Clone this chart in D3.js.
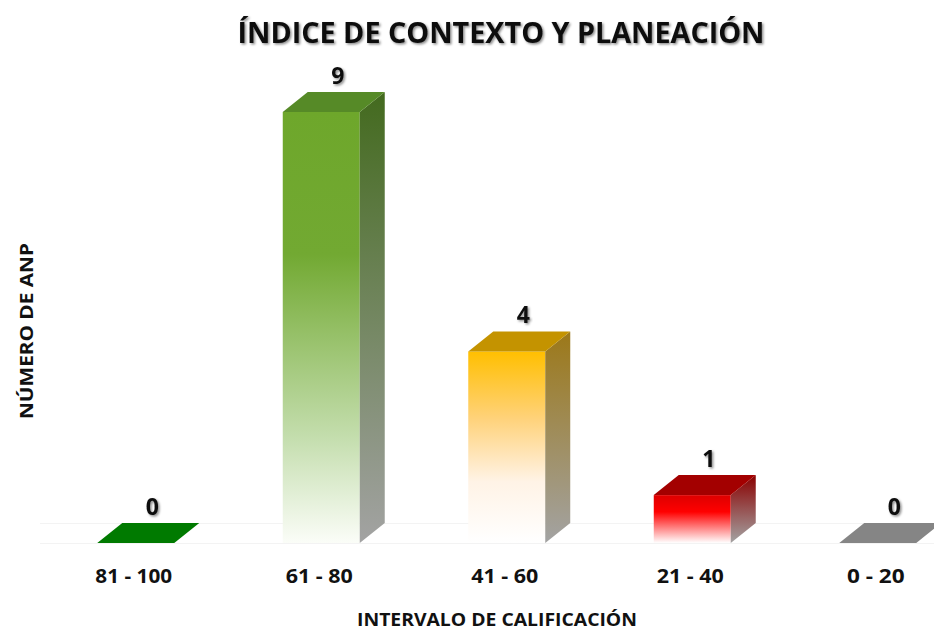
<!DOCTYPE html>
<html>
<head>
<meta charset="utf-8">
<script src="https://cdn.jsdelivr.net/npm/d3@7"></script>
<style>
  body { margin: 0; background: #fff; }
  text { font-family: "Open Sans", "DejaVu Sans", sans-serif; font-weight: bold; fill: #111; }
</style>
</head>
<body>
<div id="chart"></div>
<script>
// data
var categories = ["81 - 100", "61 - 80", "41 - 60", "21 - 40", "0 - 20"];
var values = [0, 9, 4, 1, 0];
var titleText = "ÍNDICE DE CONTEXTO Y PLANEACIÓN";
var xTitle = "INTERVALO DE CALIFICACIÓN";
var yTitle = "NÚMERO DE ANP";

// colours per bar: front gradient, top face, side gradient
var frontStops = [
  [["0%", "#008000"], ["100%", "#008000"]],
  [["0%", "#6ea72b"], ["33%", "#72a932"], ["75%", "#c3ddac"], ["100%", "#fbfdf8"]],
  [["0%", "#ffbf00"], ["35%", "#ffd27a"], ["68%", "#fff3e6"], ["100%", "#ffffff"]],
  [["0%", "#dd0000"], ["35%", "#ff0000"], ["100%", "#ffffff"]],
  [["0%", "#808080"], ["100%", "#808080"]]
];
var topColors = ["#007a00", "#568a27", "#c49300", "#a30000", "#858585"];
var sideTop = ["#005a00", "#436a1e", "#9c7818", "#8a0000", "#606060"];
var sideBottom = "#a3a3a3";

var width = 934, height = 631;
var depthX = 25, depthY = 20; // 3d offset

var svg = d3.select("#chart").append("svg")
    .attr("width", width)
    .attr("height", height);

var defs = svg.append("defs");

// soft text shadow like the original
var shadow = defs.append("filter").attr("id", "shadow")
    .attr("x", "-20%").attr("y", "-20%").attr("width", "140%").attr("height", "160%");
shadow.append("feDropShadow")
    .attr("dx", 1.5).attr("dy", 1.5)
    .attr("stdDeviation", 1.3)
    .attr("flood-color", "#000")
    .attr("flood-opacity", 0.45);

frontStops.forEach(function(stops, i) {
  var g = defs.append("linearGradient").attr("id", "front" + i)
      .attr("x1", 0).attr("y1", 0).attr("x2", 0).attr("y2", 1);
  stops.forEach(function(s) {
    g.append("stop").attr("offset", s[0]).attr("stop-color", s[1]);
  });
  var sg = defs.append("linearGradient").attr("id", "side" + i)
      .attr("x1", 0).attr("y1", 0).attr("x2", 0).attr("y2", 1);
  sg.append("stop").attr("offset", "0%").attr("stop-color", sideTop[i]);
  sg.append("stop").attr("offset", "100%").attr("stop-color", sideBottom);
});

var x = d3.scaleBand()
    .domain(categories)
    .range([43, 970.5])
    .paddingInner(0.585)
    .paddingOuter(0.2925);

var y = d3.scaleLinear()
    .domain([0, 9])
    .range([543, 112]);

var bw = x.bandwidth();

// faint floor lines
svg.append("g").selectAll("line")
    .data([0, depthY])
    .enter().append("line")
    .attr("x1", 40).attr("x2", width)
    .attr("y1", function(d) { return y(0) - d + 0.5; })
    .attr("y2", function(d) { return y(0) - d + 0.5; })
    .attr("stroke", "#f3f3f3")
    .attr("stroke-width", 1);

// 3d bars: front, side, top, value label
svg.append("g").selectAll("g")
    .data(values)
    .enter().append("g")
    .each(function(d, i) {
      var g = d3.select(this);
      var x0 = x(categories[i]);
      var yt = y(d), yb = y(0);
      if (d > 0) {
        g.append("rect")
            .attr("x", x0).attr("y", yt)
            .attr("width", bw).attr("height", yb - yt)
            .attr("fill", "url(#front" + i + ")");
        g.append("polygon")
            .attr("points", [
              [x0 + bw, yt], [x0 + bw + depthX, yt - depthY],
              [x0 + bw + depthX, yb - depthY], [x0 + bw, yb]
            ].join(" "))
            .attr("fill", "url(#side" + i + ")");
      }
      g.append("polygon")
          .attr("points", [
            [x0, yt], [x0 + depthX, yt - depthY],
            [x0 + bw + depthX, yt - depthY], [x0 + bw, yt]
          ].join(" "))
          .attr("fill", topColors[i]);
      g.append("text")
          .attr("x", x0 + bw / 2 + depthX / 2 + 4)
          .attr("y", yt - depthY - 8)
          .attr("text-anchor", "middle")
          .attr("font-size", 23)
          .attr("filter", "url(#shadow)")
          .text(d);
    });

// category labels
svg.append("g").selectAll("text")
    .data(categories)
    .enter().append("text")
    .attr("x", function(d) { return x(d) + bw / 2 - 2; })
    .attr("y", 583)
    .attr("text-anchor", "middle")
    .attr("font-size", 19)
    .attr("textLength", function(d) { return d.length * 9.6; })
    .attr("lengthAdjust", "spacingAndGlyphs")
    .text(function(d) { return d; });

// title
svg.append("text")
    .attr("x", 501)
    .attr("y", 43)
    .attr("text-anchor", "middle")
    .attr("font-size", 28)
    .attr("textLength", 527)
    .attr("lengthAdjust", "spacingAndGlyphs")
    .attr("filter", "url(#shadow)")
    .text(titleText);

// axis titles
svg.append("text")
    .attr("x", 497)
    .attr("y", 626)
    .attr("text-anchor", "middle")
    .attr("font-size", 18)
    .attr("textLength", 280)
    .attr("lengthAdjust", "spacingAndGlyphs")
    .text(xTitle);

svg.append("text")
    .attr("transform", "translate(33,331) rotate(-90)")
    .attr("text-anchor", "middle")
    .attr("font-size", 18)
    .attr("textLength", 176)
    .attr("lengthAdjust", "spacingAndGlyphs")
    .text(yTitle);
</script>
</body>
</html>
